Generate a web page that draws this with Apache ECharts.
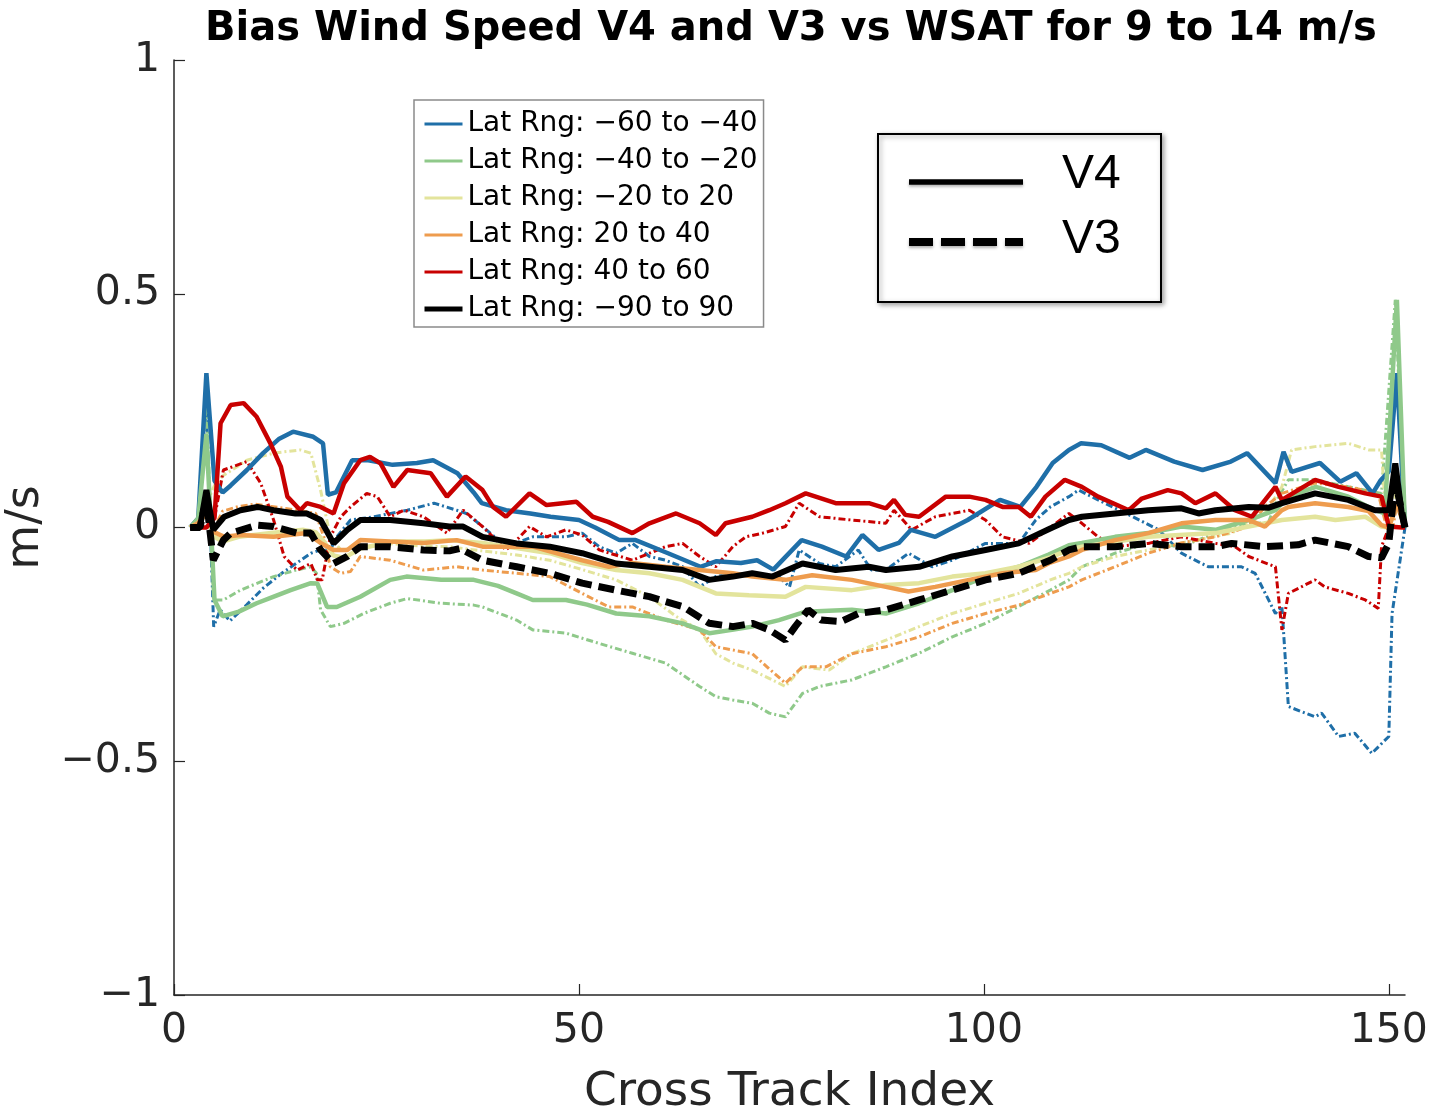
<!DOCTYPE html>
<html>
<head>
<meta charset="utf-8">
<script src="https://cdn.jsdelivr.net/npm/echarts@6/dist/echarts.min.js"></script>
<style>
html,body{margin:0;padding:0;background:#fff;}
#chart{width:1435px;height:1115px;}
</style>
</head>
<body>
<div id="chart"></div>
<script>
// ---------------- data ----------------
const titleText = 'Bias Wind Speed V4 and V3 vs WSAT for 9 to 14 m/s';
const xAxisName = 'Cross Track Index';
const yAxisName = 'm/s';
const xTickValues = [0, 50, 100, 150];
const yTickValues = [-1, -0.5, 0, 0.5, 1];
const yTickLabels = ['\u22121', '\u22120.5', '0', '0.5', '1'];

const rangeNames = ['Lat Rng: \u221260 to \u221240', 'Lat Rng: \u221240 to \u221220', 'Lat Rng: \u221220 to 20',
                    'Lat Rng: 20 to 40', 'Lat Rng: 40 to 60', 'Lat Rng: \u221290 to 90'];
const versionNames = ['V4', 'V3'];

// V4 (solid) series: [cross-track index, bias m/s]
const blueV4 = [[2,0],[3,0.02],[4,0.33],[5,0.1],[6,0.075],[7,0.09],[9,0.123],[11,0.159],[13,0.19],[14.7,0.205],[17.2,0.194],[18.4,0.18],[19,0.07],[20,0.075],[22,0.144],[24,0.144],[27,0.134],[30,0.138],[32,0.144],[35,0.116],[37,0.075],[38,0.052],[41,0.037],[44,0.03],[46.5,0.023],[50,0.016],[52,0.0],[55,-0.027],[57,-0.027],[61,-0.055],[65,-0.084],[67,-0.072],[70,-0.076],[72,-0.07],[74,-0.09],[77.5,-0.027],[80,-0.041],[83,-0.062],[85,-0.016],[87,-0.048],[89.5,-0.033],[91,-0.005],[94,-0.02],[98,0.016],[102,0.059],[104.5,0.044],[106.5,0.087],[108.5,0.138],[110.5,0.166],[112,0.18],[114.5,0.176],[118,0.149],[120,0.166],[123.5,0.141],[127,0.123],[130.5,0.141],[132.5,0.159],[136,0.095],[137,0.162],[138,0.119],[141.5,0.138],[144,0.098],[146,0.116],[148,0.073],[149,0.101],[150,0.12],[151,0.33],[152,0]];
const greenV4 = [[2,0],[3,0.02],[4,0.2],[5,-0.155],[6,-0.19],[8,-0.18],[10.2,-0.162],[12,-0.15],[14.4,-0.134],[16.9,-0.119],[17.7,-0.12],[18.9,-0.17],[20.1,-0.17],[23,-0.148],[26.7,-0.112],[28.7,-0.105],[33,-0.112],[37,-0.112],[40,-0.125],[42.3,-0.141],[44.3,-0.155],[48.4,-0.155],[51,-0.165],[54.6,-0.184],[58.7,-0.19],[62.8,-0.205],[66.1,-0.226],[68.9,-0.219],[71.4,-0.212],[74.7,-0.198],[78,-0.18],[83.7,-0.176],[87.9,-0.184],[92,-0.162],[96.1,-0.134],[100.2,-0.105],[104.3,-0.084],[108,-0.058],[110.5,-0.038],[112.1,-0.033],[116.2,-0.02],[120.3,-0.012],[124.4,0.002],[128.6,-0.005],[132.7,0.016],[136,0.037],[137.6,0.066],[141,0.087],[145,0.066],[148.3,0.037],[149.5,0.03],[151,0.487],[152,0]];
const yellowV4 = [[2,0],[3,0.01],[4,0.03],[5,-0.02],[6,-0.03],[8,-0.02],[12,-0.012],[16,-0.005],[17.5,-0.01],[18.5,-0.03],[19.7,-0.06],[21,-0.065],[23,-0.045],[27,-0.03],[31,-0.03],[34,-0.027],[38.1,-0.033],[42.3,-0.044],[46.4,-0.055],[50.4,-0.076],[54.6,-0.091],[58.7,-0.098],[62.8,-0.112],[66.9,-0.141],[71,-0.145],[75.5,-0.148],[78,-0.127],[83.7,-0.134],[87.9,-0.123],[92,-0.119],[96.1,-0.105],[100.2,-0.098],[104.3,-0.084],[108.2,-0.064],[110.5,-0.048],[112.1,-0.041],[120.3,-0.02],[128.6,-0.012],[132.7,0.002],[136.8,0.016],[140.9,0.023],[143.4,0.016],[147.1,0.023],[149.1,0.002],[150,0.0],[151,0.05],[152,0]];
const orangeV4 = [[2,0],[3,0.01],[4,0.03],[5,-0.01],[6.2,-0.02],[8.2,-0.016],[12.3,-0.02],[16.4,-0.012],[18.1,-0.033],[19.7,-0.048],[21.4,-0.048],[23,-0.027],[26.7,-0.03],[30.8,-0.033],[34.9,-0.027],[38.1,-0.041],[44.3,-0.041],[50.4,-0.07],[53.7,-0.084],[56.6,-0.076],[60.7,-0.084],[64.9,-0.091],[69,-0.098],[71.4,-0.105],[75.5,-0.112],[78.8,-0.102],[83.7,-0.112],[87.9,-0.127],[90.7,-0.137],[94,-0.127],[98.2,-0.112],[102.3,-0.098],[106.4,-0.091],[108.2,-0.075],[110.5,-0.062],[112.1,-0.048],[116.2,-0.027],[120.3,-0.012],[124.4,0.009],[128.6,0.016],[132.7,0.016],[134.7,0.002],[136.8,0.037],[137.6,0.044],[140.9,0.052],[145,0.044],[147.5,0.035],[149.1,0.005],[150,0.0],[151,0.05],[152,0]];
const redV4 = [[2,0],[4,0],[5,0.02],[5.75,0.223],[7,0.262],[8.6,0.266],[10.2,0.237],[11.9,0.18],[13.2,0.13],[14,0.066],[15.6,0.037],[16.4,0.052],[18.1,0.044],[19.7,0.03],[21,0.095],[23,0.144],[24.2,0.151],[25.5,0.137],[27.1,0.087],[28.8,0.123],[31.7,0.116],[33.7,0.066],[36,0.109],[38.1,0.08],[39.4,0.044],[41,0.023],[43.9,0.073],[46,0.048],[49.7,0.055],[51.7,0.023],[53.6,0.012],[56.6,-0.012],[58.7,0.009],[62,0.03],[64.9,0.009],[66.9,-0.016],[68.1,0.009],[71.4,0.023],[73.5,0.037],[75.5,0.052],[78,0.073],[81.7,0.052],[85.8,0.052],[87.9,0.041],[88.9,0.059],[90.3,0.027],[92,0.023],[95.3,0.066],[98.2,0.066],[100.2,0.059],[102.3,0.044],[104.3,0.044],[105.8,0.023],[107.6,0.066],[110,0.102],[112.1,0.087],[114.1,0.066],[117.9,0.037],[119.5,0.062],[122.7,0.08],[124.4,0.073],[126.1,0.052],[128.6,0.073],[131,0.037],[133.1,0.023],[136,0.087],[136.8,0.059],[140.9,0.102],[143.8,0.087],[147.1,0.073],[149.1,0.066],[150,0.002],[151.6,0.0],[152,0]];
const blackV4 = [[2,0],[3.2,0],[4,0.08],[4.85,-0.005],[6.2,0.023],[8.2,0.037],[10.3,0.044],[12.3,0.037],[15,0.03],[16.4,0.03],[18.1,0.016],[19.7,-0.034],[21.4,-0.005],[23,0.016],[26.7,0.016],[30.8,0.009],[34,0.002],[35.7,0.002],[38.1,-0.02],[42.3,-0.034],[46.4,-0.041],[50.4,-0.055],[54.6,-0.077],[58.7,-0.084],[62.8,-0.091],[66.1,-0.112],[69,-0.105],[71.4,-0.098],[73.9,-0.105],[77.6,-0.077],[81.7,-0.091],[85.8,-0.084],[87.9,-0.091],[92,-0.084],[96.1,-0.062],[100.2,-0.048],[104.3,-0.034],[108.2,-0.002],[110.5,0.016],[112.1,0.023],[116.2,0.03],[120.3,0.037],[124.4,0.041],[126.5,0.03],[128.6,0.037],[132.7,0.044],[135.1,0.042],[136.8,0.052],[140.9,0.073],[145,0.059],[148.3,0.037],[150,0.037],[150.8,0.137],[151.6,0.03],[152,0]];

// V3 (dashed) series
const blueV3 = [[2,0],[3,0.02],[4,0.25],[4.9,-0.212],[5.7,-0.176],[6.9,-0.2],[9,-0.165],[11,-0.13],[13.3,-0.098],[15.4,-0.073],[16.9,-0.055],[18.1,-0.048],[19.3,-0.048],[20.1,-0.02],[21.8,0.016],[24.7,0.023],[28.8,0.037],[32.1,0.052],[34.9,0.037],[36.1,0.03],[38.1,0.002],[41,-0.041],[44.3,-0.02],[48.4,-0.02],[50.4,-0.012],[52.5,-0.041],[54.6,-0.055],[56.6,-0.034],[58.7,-0.062],[60.7,-0.07],[62.8,-0.084],[64.9,-0.127],[66.9,-0.105],[69,-0.098],[71.4,-0.105],[74.7,-0.105],[76,-0.127],[77.2,-0.048],[79.7,-0.077],[81.7,-0.084],[84.5,-0.048],[86.1,-0.091],[87.9,-0.091],[90.7,-0.055],[93.6,-0.084],[96.1,-0.07],[100.2,-0.034],[104.3,-0.034],[106.4,0.016],[108.2,0.044],[110.5,0.066],[111.7,0.08],[114.1,0.059],[118.4,0.023],[121.6,-0.005],[124.4,-0.055],[127.7,-0.084],[131.8,-0.084],[133.5,-0.098],[136,-0.184],[136.8,-0.169],[137.6,-0.383],[140.9,-0.405],[141.7,-0.397],[143.8,-0.447],[145.8,-0.44],[147.9,-0.483],[150,-0.447],[150.4,-0.184],[152,0]];
const greenV3 = [[2,0],[3,0.02],[4,0.27],[4.9,-0.155],[6.1,-0.155],[8.2,-0.134],[12.3,-0.105],[15.1,-0.091],[16.9,-0.084],[17.6,-0.098],[18.1,-0.176],[19.3,-0.212],[21,-0.205],[23.4,-0.184],[26.7,-0.162],[28.8,-0.152],[32.9,-0.162],[37,-0.166],[38.1,-0.17],[42.3,-0.198],[44.3,-0.219],[48.4,-0.226],[52.5,-0.248],[56.6,-0.269],[60.7,-0.29],[64.9,-0.34],[66.9,-0.362],[69,-0.369],[71.4,-0.376],[73.5,-0.397],[75.5,-0.405],[77.6,-0.355],[79.7,-0.34],[83.7,-0.326],[87.9,-0.298],[92,-0.269],[96.1,-0.234],[100.2,-0.205],[104.3,-0.169],[108.2,-0.134],[110.5,-0.112],[112.1,-0.084],[116.2,-0.055],[120.3,-0.034],[124.4,-0.041],[128.6,-0.012],[132.7,0.009],[135.1,0.01],[136.4,0.066],[137.6,0.102],[140.9,0.102],[145,0.087],[149.1,0.073],[150.8,0.487],[152,0]];
const yellowV3 = [[2,0],[3,0.01],[4,0.05],[5,0.09],[6,0.11],[9,0.144],[12.3,0.159],[15.6,0.166],[16.9,0.159],[18.1,0.08],[19.3,-0.02],[20.6,-0.048],[23,-0.042],[27,-0.035],[31,-0.04],[34,-0.041],[38,-0.05],[42,-0.058],[46.4,-0.07],[50.4,-0.09],[54.6,-0.112],[58.7,-0.148],[62,-0.19],[64.9,-0.219],[66.9,-0.27],[69,-0.29],[71.4,-0.305],[75.5,-0.34],[77.6,-0.298],[80.9,-0.305],[83.7,-0.27],[87.9,-0.241],[92,-0.212],[96.1,-0.184],[100.2,-0.162],[104.3,-0.141],[108.2,-0.112],[110.5,-0.098],[112.1,-0.084],[116.2,-0.062],[120.3,-0.048],[124.4,-0.033],[130.6,-0.012],[134.7,0.03],[136.8,0.087],[138,0.166],[140.9,0.173],[145,0.18],[147.5,0.166],[149.1,0.166],[149.6,0.03],[150.5,0.02],[151,0.1],[152,0]];
const orangeV3 = [[2,0],[3,0.01],[4,0.03],[5,0.0],[6,0.035],[8,0.045],[10,0.05],[12,0.045],[16,0.035],[17.5,0.03],[18.5,-0.02],[19.3,-0.084],[20.6,-0.098],[21.8,-0.094],[23,-0.062],[26.7,-0.07],[30.8,-0.091],[34.9,-0.084],[38.1,-0.091],[42.3,-0.098],[46.4,-0.105],[50.4,-0.141],[53.7,-0.17],[56.6,-0.17],[60.7,-0.198],[64.9,-0.219],[66.9,-0.255],[71.4,-0.27],[75.5,-0.333],[77.6,-0.298],[80.5,-0.298],[83.7,-0.27],[87.9,-0.255],[92,-0.234],[96.1,-0.205],[100.2,-0.184],[104.3,-0.166],[108.2,-0.141],[110.5,-0.127],[112.1,-0.112],[116.2,-0.084],[120.3,-0.055],[124.4,-0.033],[128.6,-0.02],[132.7,0.002],[134.7,0.044],[136.8,0.073],[140.9,0.095],[145,0.087],[148.7,0.073],[149.5,0.016],[150.5,0.0],[151,0.05],[152,0]];
const redV3 = [[2,0],[4,0],[5,0.02],[6.1,0.123],[9,0.141],[10.7,0.095],[12.3,0.016],[13.6,-0.062],[15.2,-0.091],[16.9,-0.077],[17.7,-0.112],[18.3,-0.112],[19.3,-0.02],[20.6,0.023],[21.8,0.044],[23.8,0.073],[25.1,0.066],[26.7,0.023],[28.4,0.037],[30.8,0.023],[33.7,-0.012],[35.7,0.037],[38.1,0.002],[41,-0.048],[42.3,-0.027],[43.9,0.002],[46,-0.02],[48.4,-0.005],[50.4,-0.016],[52.5,-0.048],[56.6,-0.07],[60.7,-0.041],[62.8,-0.034],[64.9,-0.062],[66.9,-0.084],[69,-0.041],[70.6,-0.02],[72.7,-0.012],[75.5,0.002],[77.2,0.052],[79.7,0.023],[83.7,0.016],[87.9,0.009],[88.9,0.037],[91.1,-0.005],[94,0.023],[98.2,0.037],[100.2,0.016],[102.3,-0.02],[105.6,-0.034],[108.2,0.0],[110.5,0.03],[112.1,0.009],[114.1,-0.02],[116.2,-0.041],[120.3,-0.034],[124.4,-0.02],[128.6,-0.034],[131,-0.041],[132.7,-0.062],[136,-0.084],[136.8,-0.219],[137.6,-0.141],[140.9,-0.112],[142.1,-0.127],[145,-0.141],[147.1,-0.155],[148.7,-0.173],[149.1,-0.041],[150,0.0],[152,0]];
const blackV3 = [[2,0],[3.2,0],[4,0.06],[4.85,-0.07],[6.1,-0.027],[7,-0.012],[10.3,0.005],[12.3,0.002],[15.2,-0.012],[16.9,-0.012],[18.1,-0.048],[19.7,-0.077],[21.4,-0.062],[23,-0.041],[26.7,-0.041],[30.8,-0.048],[34,-0.05],[35.3,-0.045],[38.1,-0.07],[42.3,-0.084],[46.4,-0.098],[50.4,-0.119],[54.6,-0.134],[58.7,-0.148],[62.8,-0.169],[66.1,-0.205],[69,-0.212],[71.4,-0.205],[73.5,-0.219],[75.5,-0.241],[76.7,-0.212],[78.3,-0.176],[79.9,-0.198],[82.4,-0.201],[84.5,-0.184],[87.9,-0.176],[92,-0.155],[96.1,-0.134],[100.2,-0.112],[104.3,-0.098],[108.2,-0.07],[110.5,-0.048],[112.1,-0.041],[116.2,-0.041],[120.3,-0.034],[124.4,-0.041],[128.6,-0.041],[130.6,-0.034],[134.7,-0.041],[138.8,-0.037],[140.9,-0.027],[145,-0.041],[147.5,-0.062],[149.1,-0.065],[150,-0.034],[150.8,0.1],[152,0]];

// ---------------- styling ----------------
const colors = ['#1f6fa8', '#8fc98a', '#e3e49c', '#ee9c4e', '#c80000', '#000000'];
const v4Data = [blueV4, greenV4, yellowV4, orangeV4, redV4, blackV4];
const v3Data = [blueV3, greenV3, yellowV3, orangeV3, redV3, blackV3];

const FONT = 'DejaVu Sans';
const series = [];
for (let i = 0; i < 5; i++) {
  series.push({
    name: versionNames[1] + ' ' + rangeNames[i], type: 'line', data: v3Data[i],
    symbol: 'none', showSymbol: false, animation: false, z: 2,
    lineStyle: { color: colors[i], width: 3, type: [7, 3, 2, 3] }
  });
}
for (let i = 0; i < 5; i++) {
  series.push({
    name: rangeNames[i], type: 'line', data: v4Data[i],
    symbol: 'none', showSymbol: false, animation: false, z: 3,
    lineStyle: { color: colors[i], width: 4.5 }
  });
}
series.push({
  name: versionNames[1] + ' ' + rangeNames[5], type: 'line', data: v3Data[5],
  symbol: 'none', showSymbol: false, animation: false, z: 4,
  lineStyle: { color: colors[5], width: 7, type: [16, 7] }
});
series.push({
  name: rangeNames[5], type: 'line', data: v4Data[5],
  symbol: 'none', showSymbol: false, animation: false, z: 5,
  lineStyle: { color: colors[5], width: 6 }
});

const chart = echarts.init(document.getElementById('chart'), null, { renderer: 'canvas' });
const axisColor = '#262626';

const option = {
  backgroundColor: '#ffffff',
  animation: false,
  color: colors,
  title: {
    text: titleText, left: 791, top: 10, padding: 0, textAlign: 'center',
    textStyle: { fontFamily: FONT, fontWeight: 'bold', fontSize: 40, color: '#000' }
  },
  grid: { left: 174, top: 60, width: 1231, height: 935, containLabel: false, outerBoundsMode: 'none' },
  legend: {
    orient: 'vertical', left: 414, top: 100,
    padding: [10, 6, 4, 8],
    borderColor: '#8a8a8a', borderWidth: 1.5, backgroundColor: '#fff',
    itemWidth: 38, itemHeight: 14, itemGap: 9,
    itemStyle: { opacity: 0 },
    textStyle: { fontFamily: FONT, fontSize: 28, color: '#000', lineHeight: 28, padding: [0, 0, 0, 0] },
    selectedMode: false,
    data: rangeNames.map((n, i) => ({ name: n, lineStyle: { color: colors[i], width: i === 5 ? 5 : 3, type: 'solid', opacity: 1 } }))
  },
  xAxis: {
    type: 'value', min: 0, max: 152,
    name: xAxisName, nameLocation: 'middle', nameGap: 74,
    nameTextStyle: { fontFamily: FONT, fontSize: 47, color: axisColor },
    axisLine: { onZero: false, lineStyle: { color: axisColor, width: 1.5 } },
    axisTick: { inside: true, length: 11, customValues: xTickValues, lineStyle: { color: axisColor, width: 1.2 } },
    axisLabel: { customValues: xTickValues, margin: 16, fontFamily: FONT, fontSize: 41, color: axisColor },
    splitLine: { show: false }
  },
  yAxis: {
    type: 'value', min: -1, max: 1, interval: 0.5,
    name: yAxisName, nameLocation: 'middle', nameGap: 109, nameRotate: 90,
    nameTextStyle: { fontFamily: FONT, fontSize: 46, color: axisColor },
    axisLine: { onZero: false, lineStyle: { color: axisColor, width: 1.5 } },
    axisTick: { inside: true, length: 11, lineStyle: { color: axisColor, width: 1.2 } },
    axisLabel: {
      margin: 14, fontFamily: FONT, fontSize: 41, color: axisColor,
      formatter: v => { const k = yTickValues.indexOf(v); return k >= 0 ? yTickLabels[k] : ''; }
    },
    splitLine: { show: false }
  },
  graphic: [{
    type: 'group', left: 877, top: 133,
    children: [
      { type: 'rect', shape: { x: 0, y: 0, width: 283, height: 168 },
        style: { fill: '#fff', stroke: '#000', lineWidth: 2, shadowBlur: 5, shadowColor: 'rgba(0,0,0,0.35)', shadowOffsetX: 2, shadowOffsetY: 2 } },
      { type: 'line', shape: { x1: 31, y1: 48, x2: 145, y2: 48 },
        style: { stroke: '#000', lineWidth: 5.5, shadowBlur: 3, shadowColor: 'rgba(0,0,0,0.3)', shadowOffsetY: 2 } },
      { type: 'line', shape: { x1: 31, y1: 108, x2: 145, y2: 108 },
        style: { stroke: '#000', lineWidth: 8, lineDash: [24, 8], shadowBlur: 3, shadowColor: 'rgba(0,0,0,0.3)', shadowOffsetY: 2 } },
      { type: 'text', x: 184, y: 41, style: { text: versionNames[0], font: '48px "Liberation Sans"', fill: '#000', verticalAlign: 'middle', align: 'left' } },
      { type: 'text', x: 184, y: 106, style: { text: versionNames[1], font: '48px "Liberation Sans"', fill: '#000', verticalAlign: 'middle', align: 'left' } }
    ]
  }],
  series: series
};
chart.setOption(option);
</script>
</body>
</html>
